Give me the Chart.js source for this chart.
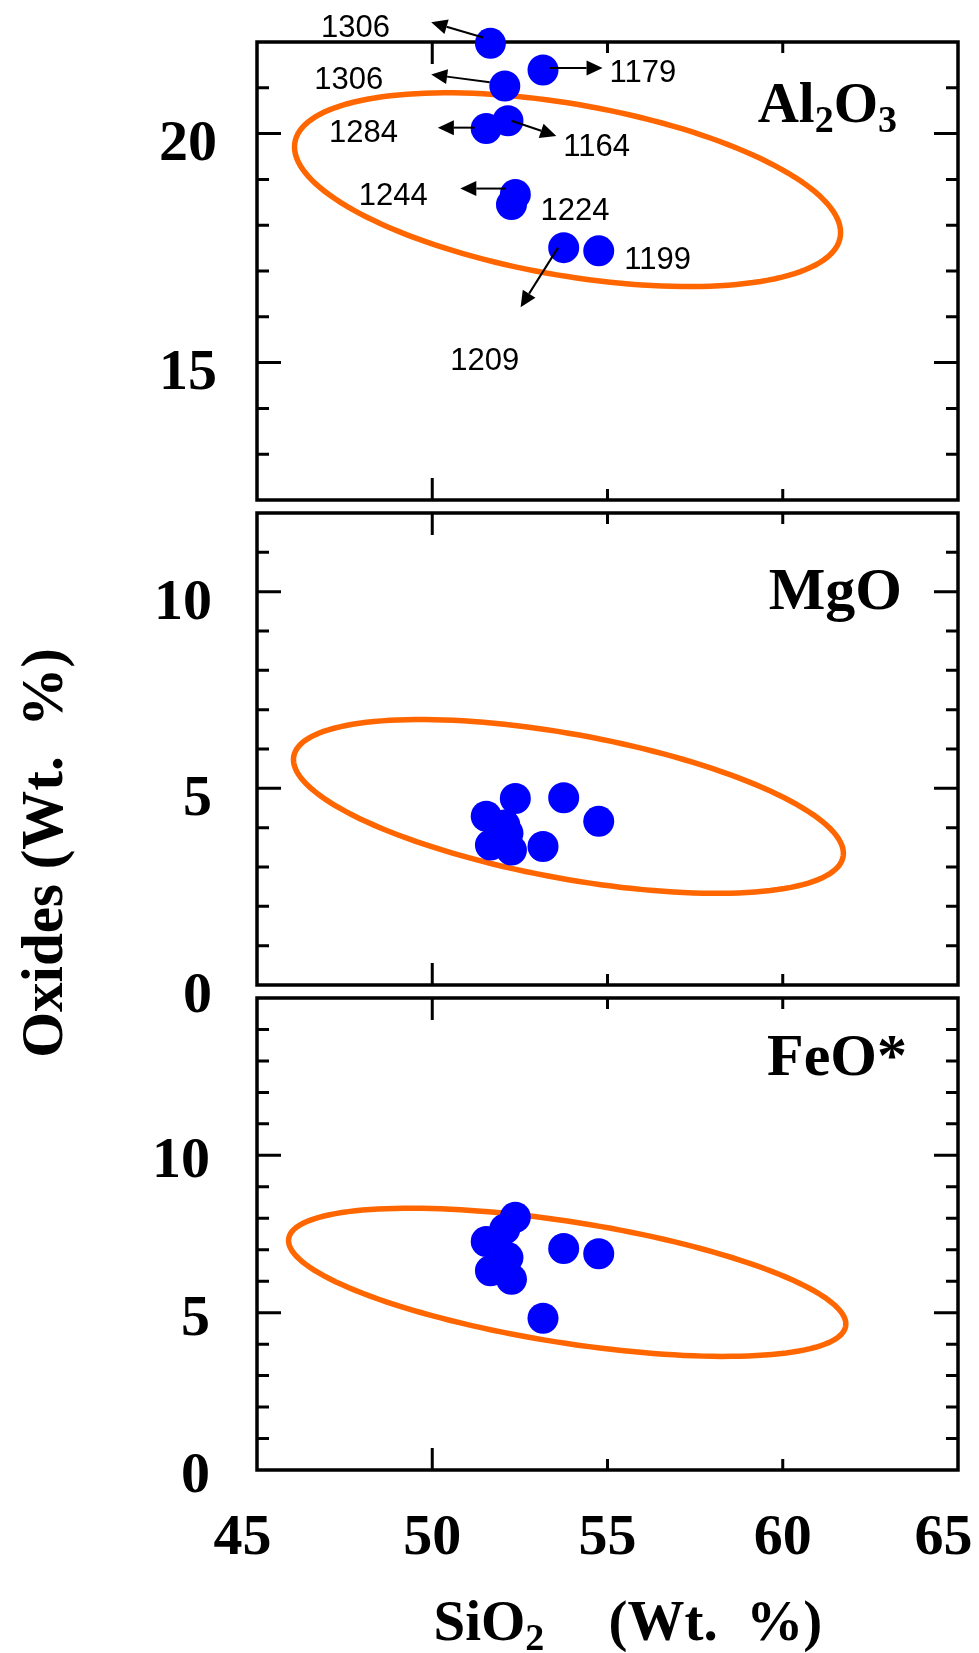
<!DOCTYPE html>
<html>
<head>
<meta charset="utf-8">
<title>SiO2 vs oxides</title>
<script src="https://cdn.jsdelivr.net/npm/chart.js@4.4.1/dist/chart.umd.min.js"></script>
<style>
  body { margin: 0; background: #fff; }
  #wrap { position: relative; width: 979px; height: 1653px; }
  #wrap canvas { position: absolute; left: 0; top: 0; }
</style>
</head>
<body>
<div id="wrap">
  <canvas id="alChart" width="979" height="1653"></canvas>
  <canvas id="mgChart" width="979" height="1653"></canvas>
  <canvas id="feChart" width="979" height="1653"></canvas>
</div>
<script>
// samples, same order in every panel: 1284, 1306, 1306, 1164, 1224, 1244, 1179, 1209, 1199
const sio2  = [51.54, 51.66, 52.07, 52.16, 52.26, 52.37, 53.16, 53.75, 54.75];
const al2o3 = [20.11, 21.97, 21.04, 20.28, 18.45, 18.67, 21.39, 17.51, 17.44];
const mgo   = [4.29, 3.56, 4.07, 3.86, 3.43, 4.74, 3.52, 4.76, 4.16];
const feo   = [7.26, 6.33, 7.66, 6.75, 6.06, 8.03, 4.82, 7.04, 6.87];

const xTicks = [45, 50, 55, 60, 65];
const al2o3Ticks = [15, 20];
const mgoTicks = [0, 5, 10];
const feoTicks = [0, 5, 10];

// field ellipses: [left x, left y, right x, right y, top y]
const al2o3Ring = [46.07, 19.71, 61.65, 17.84, 20.89];
const mgoRing = [46.04, 5.73, 61.73, 3.35, 6.75];
const feoRing = [45.90, 7.29, 61.80, 4.64, 8.32];

// temperature notes in the Al2O3 panel
const noteText = ['1306', '1306', '1284', '1164', '1244', '1224', '1209', '1179', '1199'];
const noteX = [47.81, 47.62, 48.04, 54.69, 48.89, 54.07, 51.50, 56.01, 56.43];
const noteY = [22.30, 21.16, 20.01, 19.70, 18.63, 18.29, 15.03, 21.32, 17.23];
const arrowFrom = [[51.45, 22.10], [51.64, 21.12], [51.21, 20.13], [52.26, 20.28], [52.10, 18.80], [53.59, 17.51], [53.35, 21.43]];
const arrowTo = [[49.97, 22.43], [49.97, 21.29], [50.16, 20.13], [53.54, 19.95], [50.80, 18.80], [52.52, 16.21], [54.86, 21.43]];

const SERIF = '"Liberation Serif", "Times New Roman", serif';
const SANS = '"Liberation Sans", Arial, sans-serif';

const panelSetup = {
    alChart: { ring: al2o3Ring, name: [['Al', 0], ['2', 1], ['O', 0], ['3', 1]], size: 57, dx: 61, dy: 80, notes: true },
    mgChart: { ring: mgoRing, name: [['MgO', 0]], size: 60, dx: 56, dy: 96 },
    feChart: { ring: feoRing, name: [['FeO*', 0]], size: 60, dx: 51, dy: 77, titles: true }
};

function richWidth(ctx, parts, size) {
    let w = 0;
    parts.forEach(([t, sub]) => {
        ctx.font = `bold ${sub ? Math.round(size * 0.66) : size}px ${SERIF}`;
        w += ctx.measureText(t).width;
    });
    return w;
}

function drawRich(ctx, parts, x, y, size) {
    let cx = x;
    parts.forEach(([t, sub]) => {
        ctx.font = `bold ${sub ? Math.round(size * 0.66) : size}px ${SERIF}`;
        ctx.fillText(t, cx, y + (sub ? size * 0.17 : 0));
        cx += ctx.measureText(t).width;
    });
}

function drawArrow(ctx, x1, y1, x2, y2) {
    const a = Math.atan2(y2 - y1, x2 - x1);
    const hl = 16, hw = 7.5;
    const bx = x2 - hl * Math.cos(a), by = y2 - hl * Math.sin(a);
    ctx.beginPath();
    ctx.moveTo(x1, y1);
    ctx.lineTo(bx, by);
    ctx.stroke();
    ctx.beginPath();
    ctx.moveTo(x2, y2);
    ctx.lineTo(bx + hw * Math.sin(a), by - hw * Math.cos(a));
    ctx.lineTo(bx - hw * Math.sin(a), by + hw * Math.cos(a));
    ctx.closePath();
    ctx.fill();
}

const panelPlugin = {
    id: 'panel',
    beforeDatasetsDraw(chart) {
        const setup = panelSetup[chart.canvas.id];
        const ctx = chart.ctx;
        const { left, right, top, bottom } = chart.chartArea;
        const sx = chart.scales.x, sy = chart.scales.y;
        ctx.save();
        ctx.strokeStyle = '#000';
        ctx.lineWidth = 3;
        ctx.beginPath();
        // inward ticks on all four sides
        for (let v = sy.min + 1; v < sy.max; v++) {
            const py = sy.getPixelForValue(v);
            const len = v % 5 === 0 ? 24 : 12;
            ctx.moveTo(left, py); ctx.lineTo(left + len, py);
            ctx.moveTo(right, py); ctx.lineTo(right - len, py);
        }
        xTicks.slice(1, -1).forEach(v => {
            const px = sx.getPixelForValue(v);
            const len = v === 50 ? 22 : 11;
            ctx.moveTo(px, top); ctx.lineTo(px, top + len);
            ctx.moveTo(px, bottom); ctx.lineTo(px, bottom - len);
        });
        ctx.stroke();
        ctx.lineWidth = 3.5;
        ctx.strokeRect(left, top, right - left, bottom - top);

        // field ellipse
        const r = setup.ring;
        const lx = sx.getPixelForValue(r[0]), ly = sy.getPixelForValue(r[1]);
        const rx = sx.getPixelForValue(r[2]), ry = sy.getPixelForValue(r[3]);
        const ty = sy.getPixelForValue(r[4]);
        const cx = (lx + rx) / 2, cy = (ly + ry) / 2;
        const ux = rx - cx, uy = ry - cy;
        const h = cy - ty;
        const vv = Math.sqrt(Math.max(h * h - uy * uy, 1));
        ctx.strokeStyle = '#ff6600';
        ctx.lineWidth = 5.5;
        ctx.beginPath();
        for (let i = 0; i <= 160; i++) {
            const t = i / 160 * Math.PI * 2;
            const px = cx + ux * Math.cos(t);
            const py = cy + uy * Math.cos(t) + vv * Math.sin(t);
            if (i === 0) ctx.moveTo(px, py); else ctx.lineTo(px, py);
        }
        ctx.closePath();
        ctx.stroke();
        ctx.restore();
    },
    afterDatasetsDraw(chart) {
        const setup = panelSetup[chart.canvas.id];
        const ctx = chart.ctx;
        const { right, top } = chart.chartArea;
        const sx = chart.scales.x, sy = chart.scales.y;
        ctx.save();
        ctx.fillStyle = '#000';
        ctx.strokeStyle = '#000';
        ctx.lineWidth = 2;
        if (setup.notes) {
            arrowFrom.forEach((p, i) => {
                drawArrow(ctx, sx.getPixelForValue(p[0]), sy.getPixelForValue(p[1]),
                    sx.getPixelForValue(arrowTo[i][0]), sy.getPixelForValue(arrowTo[i][1]));
            });
            ctx.font = `31px ${SANS}`;
            ctx.textAlign = 'center';
            ctx.textBaseline = 'middle';
            noteText.forEach((t, i) => {
                ctx.fillText(t, sx.getPixelForValue(noteX[i]), sy.getPixelForValue(noteY[i]));
            });
        }
        ctx.textAlign = 'left';
        ctx.textBaseline = 'alphabetic';
        const w = richWidth(ctx, setup.name, setup.size);
        drawRich(ctx, setup.name, right - setup.dx - w, top + setup.dy, setup.size);
        ctx.restore();
    },
    afterDraw(chart) {
        const setup = panelSetup[chart.canvas.id];
        if (!setup.titles) return;
        const ctx = chart.ctx;
        const { left, right } = chart.chartArea;
        const mid = (left + right) / 2;
        ctx.save();
        ctx.fillStyle = '#000';
        ctx.textAlign = 'left';
        ctx.textBaseline = 'alphabetic';
        drawRich(ctx, [['SiO', 0], ['2', 1]], mid - 174, 1640, 57);
        drawRich(ctx, [['(Wt.  %)', 0]], mid + 1, 1640, 57);
        ctx.translate(62, 853);
        ctx.rotate(-Math.PI / 2);
        ctx.textAlign = 'center';
        ctx.font = `bold 59px ${SERIF}`;
        ctx.fillText('Oxides (Wt.  %)', 0, 0);
        ctx.restore();
    }
};

function makePanel(id, yValues, yMin, yMax, yLabels, padTop, padBottom, showX, labelPad, labelShift) {
    return new Chart(document.getElementById(id), {
        type: 'scatter',
        data: {
            datasets: [{
                data: sio2.map((x, i) => ({ x: x, y: yValues[i] })),
                backgroundColor: '#0000ff',
                borderWidth: 0,
                pointRadius: 15.5,
                pointHoverRadius: 15.5,
                clip: false
            }]
        },
        options: {
            responsive: false,
            animation: false,
            devicePixelRatio: 1,
            events: [],
            layout: { padding: { left: 0, right: 21, top: padTop, bottom: padBottom } },
            plugins: {
                legend: { display: false },
                tooltip: { enabled: false }
            },
            scales: {
                x: {
                    type: 'linear',
                    min: 45,
                    max: 65,
                    grid: { display: false },
                    border: { display: false },
                    ticks: {
                        display: showX,
                        stepSize: 5,
                        autoSkip: false,
                        maxRotation: 0,
                        padding: 26,
                        color: '#000',
                        font: { family: SERIF, size: 58, weight: 'bold' },
                        // edge labels sit a little inward in the original
                        callback: v => (v === 45 || v === 65) ? v + '  ' : String(v)
                    },
                    afterFit: s => {
                        s.height = showX ? 183 : 0;
                        s.paddingLeft = 0;
                        s.paddingRight = 0;
                    }
                },
                y: {
                    type: 'linear',
                    min: yMin,
                    max: yMax,
                    grid: { display: false },
                    border: { display: false },
                    ticks: {
                        stepSize: 1,
                        autoSkip: false,
                        padding: labelPad,
                        labelOffset: labelShift,
                        color: '#000',
                        font: { family: SERIF, size: 58, weight: 'bold' },
                        callback: v => yLabels.includes(v) ? String(v) : ''
                    },
                    afterFit: s => {
                        s.width = 257;
                        s.paddingTop = 0;
                        s.paddingBottom = 0;
                    }
                }
            }
        },
        plugins: [panelPlugin]
    });
}

makePanel('alChart', al2o3, 12, 22, al2o3Ticks, 42, 1153, false, 32, 11);
makePanel('mgChart', mgo, 0, 12, mgoTicks, 513, 668, false, 37, 12);
makePanel('feChart', feo, 0, 15, feoTicks, 998, 0, true, 39, 7);
</script>
</body>
</html>
